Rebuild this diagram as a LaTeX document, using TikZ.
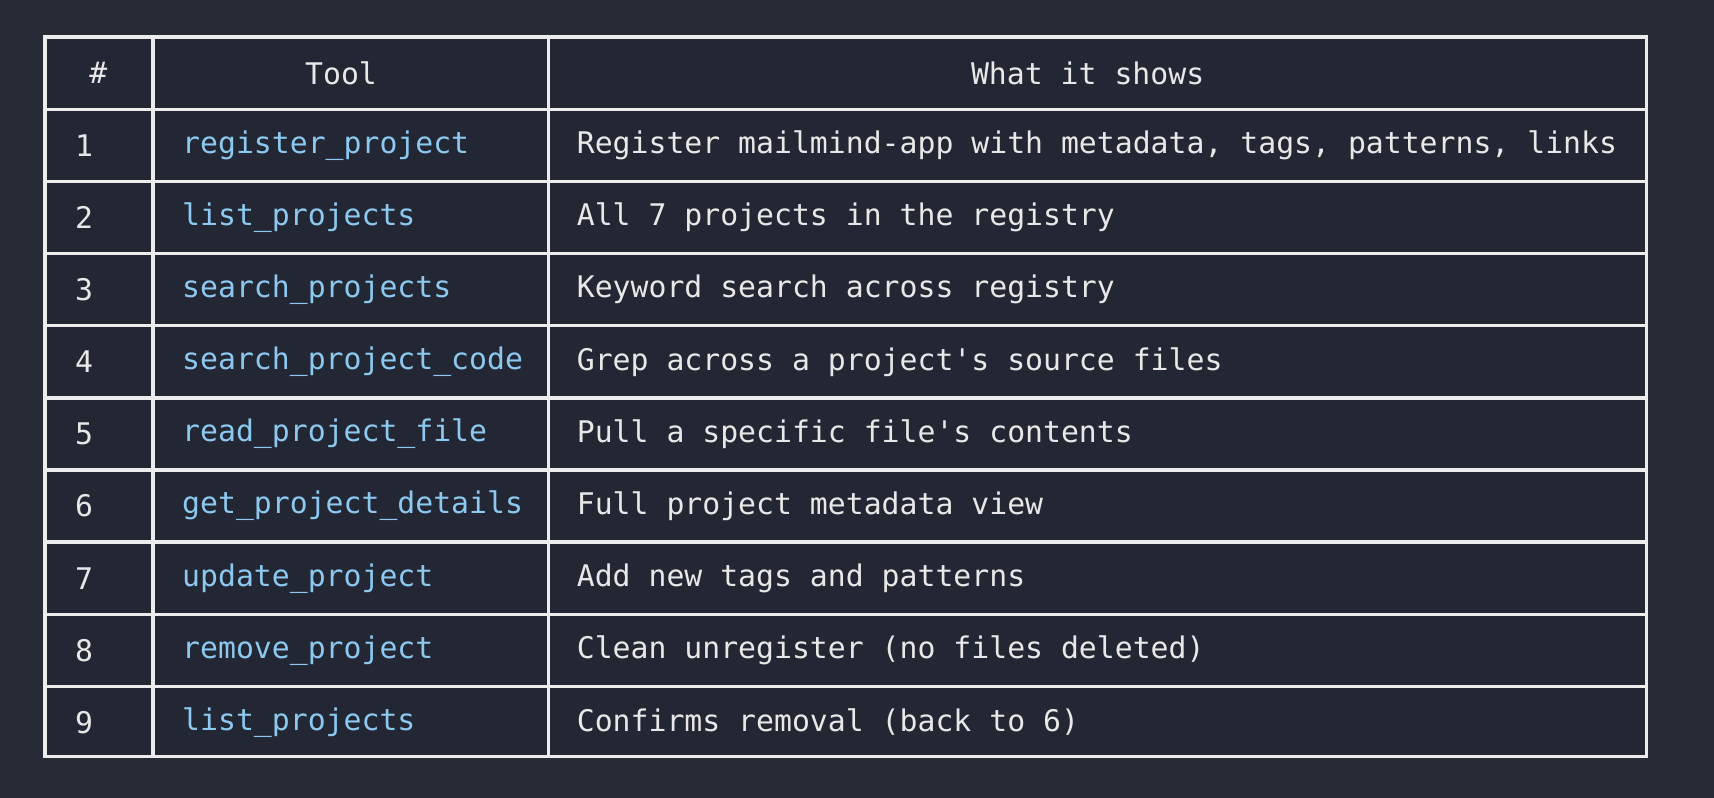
\documentclass[tikz,border=0pt]{standalone}
\usepackage{fontspec}
\setmainfont{DejaVu Sans}
\newfontfamily\monofont{DejaVu Sans Mono}
\begin{document}
\begin{tikzpicture}[x=0.01cm,y=-0.01cm]
	\definecolor{bgdark}{HTML}{272B36}
	\definecolor{cellbg}{HTML}{232733}
	\definecolor{toolblue}{HTML}{8CC8F0}
	\definecolor{txt}{HTML}{E8E8E8}
	\tikzset{
		grid/.style={draw=white!85!gray, line width=0.9pt},
		cell/.style={anchor=west, font=\monofont\fontsize{7.75}{9}\selectfont, text=txt, inner sep=0pt},
		tool/.style={cell, text=toolblue},
		head/.style={cell, anchor=center}
	}
	\fill[bgdark] (0,0) rectangle (1568,730);
	\fill[cellbg] (41,34) rectangle (1506,692);
	% grid lines
	\foreach \y in {100,166,232,298,364,430,496,562,628}
		\draw[grid] (41,\y) -- (1506,\y);
	\draw[grid] (41,34) rectangle (1506,692);
	\draw[grid] (140,34) -- (140,692);
	\draw[grid] (502,34) -- (502,692);
	% header
	\node[head] (hnum) at (90,67) {\#};
	\node[head] (htool) at (312,67) {Tool};
	\node[head] (hdesc) at (995,67) {What it shows};
	% rows
	\foreach \n/\t/\d [count=\i] in {
		1/register\_project/{Register mailmind-app with metadata, tags, patterns, links},
		2/list\_projects/{All 7 projects in the registry},
		3/search\_projects/{Keyword search across registry},
		4/search\_project\_code/{Grep across a project's source files},
		5/read\_project\_file/{Pull a specific file's contents},
		6/get\_project\_details/{Full project metadata view},
		7/update\_project/{Add new tags and patterns},
		8/remove\_project/{Clean unregister (no files deleted)},
		9/list\_projects/{Confirms removal (back to 6)}}
	{
		\pgfmathsetmacro{\ry}{67+66*\i}
		\node[cell] (num\i) at (68,\ry) {\n};
		\node[tool] (tool\i) at (166,\ry) {\t};
		\node[cell] (desc\i) at (527,\ry) {\d};
	}
\end{tikzpicture}
\end{document}
